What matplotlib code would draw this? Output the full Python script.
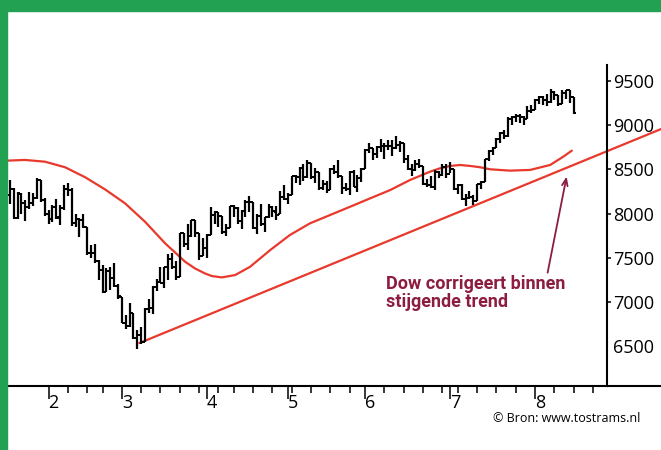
import numpy as np
import pandas as pd
import matplotlib
matplotlib.use("Agg")
import matplotlib.pyplot as plt
from matplotlib.patches import Rectangle

# kleuren
GREEN = "#22a152"
RED = "#e8392c"
WINE = "#8c1d40"

plt.rcParams['font.family'] = ['Open Sans', 'DejaVu Sans']

# handelsdagen Dow Jones 2009 (15 jan - 17 aug), plus enkele lege dagen voor de as
holidays = ["2009-01-19", "2009-02-16", "2009-04-10", "2009-05-25", "2009-07-03"]
calendar = pd.bdate_range("2009-01-15", "2009-08-28")
calendar = calendar[~calendar.isin(pd.to_datetime(holidays))]

# dagkoersen: open, hoog, laag, slot
opens = [8196, 8212, 8279, 7949, 8226, 8120, 8078, 8117, 8176, 8374, 8149,
         7995, 7936, 8076, 7954, 8063, 8281, 8269, 7888, 7937, 7931, 7845, 7553, 7555, 7465,
         7365, 7115, 7350, 7270, 7180,
         7056, 6764, 6727, 6874, 6595, 6625, 6548, 6925, 6930, 7170, 7224, 7216, 7394, 7487,
         7400, 7279, 7775, 7660, 7750, 7924, 7775, 7523,
         7608, 7762, 7978, 8016, 7973, 7790, 7838, 8083, 8057, 7920, 8029, 8125, 8128, 7840,
         7967, 7886, 7957, 8075, 8020, 7990, 8185,
         8168, 8212, 8426, 8410, 8512, 8409, 8570, 8418, 8468, 8284, 8331, 8268, 8504, 8474,
         8422, 8294, 8277, 8473, 8300, 8403,
         8501, 8721, 8740, 8675, 8750, 8763, 8764, 8763, 8739, 8770, 8799, 8612, 8504, 8497,
         8555, 8539, 8339, 8322, 8299, 8472, 8438, 8529,
         8447, 8504, 8280, 8324, 8163, 8178, 8183, 8146, 8332, 8359, 8616, 8711, 8743, 8848,
         8915, 8881, 9069, 9093, 9108, 9096, 9070, 9154,
         9172, 9286, 9320, 9280, 9256, 9370, 9337, 9241, 9362, 9398, 9320]
highs = [8300, 8380, 8290, 8240, 8230, 8150, 8240, 8230, 8400, 8375, 8180,
         8040, 8100, 8170, 8100, 8320, 8340, 8290, 7990, 7950, 7990, 7850, 7640, 7660, 7480,
         7420, 7380, 7400, 7440, 7200,
         7060, 6850, 6990, 6880, 6680, 6720, 6930, 7030, 7180, 7260, 7390, 7400, 7540, 7550,
         7460, 7780, 7780, 7880, 7930, 7925, 7776, 7720,
         7770, 8070, 8030, 8020, 7975, 7880, 8090, 8100, 8070, 8040, 8150, 8200, 8130, 7990,
         8110, 7960, 8110, 8090, 8080, 8250, 8320,
         8230, 8430, 8440, 8530, 8560, 8600, 8575, 8510, 8470, 8380, 8370, 8510, 8550, 8600,
         8425, 8350, 8480, 8490, 8440, 8510,
         8730, 8800, 8745, 8760, 8840, 8800, 8830, 8830, 8880, 8820, 8800, 8660, 8560, 8610,
         8620, 8540, 8390, 8430, 8490, 8480, 8560, 8560,
         8580, 8505, 8330, 8330, 8220, 8260, 8210, 8335, 8370, 8620, 8720, 8750, 8850, 8920,
         8940, 9090, 9100, 9130, 9120, 9100, 9220, 9230,
         9290, 9330, 9330, 9350, 9410, 9380, 9340, 9400, 9400, 9400, 9321]
lows = [8010, 8110, 7939, 7935, 7990, 7910, 8050, 8080, 8170, 8130, 7970,
        7880, 7900, 7940, 7870, 8040, 8200, 7860, 7850, 7740, 7840, 7530, 7500, 7440, 7250,
        7100, 7110, 7140, 7170, 7030,
        6760, 6700, 6720, 6580, 6470, 6520, 6545, 6870, 6860, 7120, 7210, 7160, 7250, 7370,
        7250, 7278, 7620, 7590, 7740, 7740, 7470, 7520,
        7500, 7760, 7880, 7850, 7770, 7750, 7836, 7960, 7880, 7830, 7960, 8020, 7830, 7770,
        7860, 7790, 7950, 7960, 7930, 7990, 8150,
        8110, 8210, 8340, 8320, 8370, 8400, 8390, 8350, 8270, 8270, 8230, 8265, 8450, 8400,
        8220, 8260, 8210, 8300, 8240, 8360,
        8500, 8680, 8600, 8630, 8700, 8620, 8720, 8650, 8730, 8700, 8570, 8490, 8430, 8480,
        8520, 8320, 8300, 8290, 8270, 8400, 8430, 8400,
        8460, 8270, 8220, 8150, 8090, 8160, 8100, 8140, 8280, 8358, 8590, 8660, 8740, 8800,
        8840, 8870, 9000, 9030, 9020, 9000, 9070, 9140,
        9170, 9240, 9230, 9220, 9255, 9280, 9220, 9240, 9300, 9250, 9120]
closes = [8212, 8281, 7949, 8228, 8123, 8077, 8116, 8175, 8375, 8149, 8000,
          7936, 8078, 7956, 8063, 8280, 8270, 7888, 7939, 7932, 7850, 7553, 7555, 7465, 7366,
          7114, 7351, 7270, 7182, 7063,
          6763, 6726, 6876, 6594, 6627, 6547, 6926, 6930, 7170, 7224, 7216, 7395, 7486, 7400,
          7278, 7776, 7660, 7749, 7924, 7776, 7522, 7609,
          7761, 7978, 8018, 7975, 7789, 7837, 8083, 8058, 7920, 8029, 8125, 8131, 7841, 7969,
          7886, 7957, 8076, 8025, 7989, 8185, 8168,
          8212, 8426, 8410, 8512, 8409, 8575, 8418, 8469, 8284, 8331, 8268, 8504, 8474, 8422,
          8294, 8277, 8473, 8300, 8403, 8500,
          8721, 8740, 8675, 8750, 8764, 8764, 8763, 8739, 8770, 8799, 8612, 8504, 8497, 8555,
          8539, 8339, 8322, 8299, 8472, 8438, 8529, 8447,
          8504, 8280, 8324, 8163, 8178, 8183, 8146, 8332, 8359, 8616, 8711, 8743, 8848, 8915,
          8881, 9069, 9093, 9108, 9096, 9070, 9154, 9172,
          9286, 9320, 9280, 9256, 9370, 9337, 9241, 9362, 9398, 9321, 9135]

ma_idx = [0.2, 4.9, 10.1, 15.3, 20.5, 25.6, 30.8, 36.0, 41.2, 46.4, 48.9, 51.5, 53.3,
          55.9, 59.3, 63.2, 68.4, 73.5, 78.7, 83.9, 89.1, 94.3, 99.5, 104.6, 109.8,
          112.4, 115.0, 117.6, 120.2, 122.8, 125.4, 130.5, 135.7, 140.9, 144.3, 146.5]
ma_val = [8598, 8606, 8586, 8523, 8410, 8274, 8116, 7907, 7663, 7454, 7380, 7323, 7293,
          7278, 7304, 7398, 7587, 7757, 7889, 7983, 8077, 8172, 8266, 8379, 8473,
          8512, 8538, 8549, 8538, 8523, 8500, 8485, 8493, 8549, 8643, 8711]

# trendlijn
trend_idx = [34.5, 169.6]
trend_val = [6535, 8955]

y_ticks = [6500, 7000, 7500, 8000, 8500, 9000, 9500]
month_labels = ["2", "3", "4", "5", "6", "7", "8"]

n = len(closes)
idx = np.arange(n)

# maandstart en weekstart bepalen
cal = pd.Series(calendar)
month_start = [i for i in range(1, len(cal)) if cal[i].month != cal[i - 1].month]
week_start = [i for i in range(1, len(cal))
              if cal[i].weekday() < cal[i - 1].weekday() and i >= month_start[0]]
week_start = [i for i in week_start if i not in month_start]

fig = plt.figure(figsize=(6.61, 4.5), dpi=100)
ax = fig.add_axes([0, 64 / 450, 1, 375 / 450])

# bars
ax.vlines(idx, lows, highs, color="black", lw=1.6, zorder=3)
ax.hlines(opens, idx - 0.7, idx, color="black", lw=1.4, zorder=3)
ax.hlines(closes, idx, idx + 0.7, color="black", lw=1.4, zorder=3)

ax.plot(ma_idx, ma_val, color=RED, lw=1.6, zorder=2, solid_capstyle="round",
        solid_joinstyle="round")
ax.plot(trend_idx, trend_val, color=RED, lw=1.6, zorder=2, solid_capstyle="round")

ax.set_xlim(-1.56, 169.6)
ax.set_ylim(6050, 10290)

for s in ["top", "left"]:
    ax.spines[s].set_visible(False)
ax.spines["bottom"].set_linewidth(1.5)
ax.spines["right"].set_linewidth(1.5)
ax.spines["right"].set_position(("data", 155.65))
ax.spines["right"].set_bounds(6050, 9680)

ax.yaxis.tick_right()
ax.set_yticks(y_ticks)
ax.set_yticklabels([str(v) for v in y_ticks])
ax.tick_params(axis="y", direction="out", length=3, width=1.1, pad=1, labelsize=13)
ax.yaxis.get_major_ticks()[0].tick2line.set_visible(False)

ax.set_xticks(month_start)
ax.set_xticklabels(month_labels, ha="left")
ax.set_xticks(week_start, minor=True)
ax.tick_params(axis="x", which="major", direction="out", length=9.5, width=1.1,
               pad=-3.5, labelsize=13)
ax.tick_params(axis="x", which="minor", direction="out", length=5, width=1.1)

ax.text(98.4, 7300, "Dow corrigeert binnen\nstijgende trend", color=WINE,
        family=["Roboto", "DejaVu Sans"], fontsize=13, fontweight="bold",
        ha="left", va="top", linespacing=0.95)
ax.annotate("", xy=(145.3, 8450), xytext=(140.1, 7300),
            arrowprops=dict(arrowstyle="->,head_length=0.5,head_width=0.2",
                            color=WINE, lw=1.3))

fig.text(640 / 661, 1 - 418 / 450, "\u00a9 Bron: www.tostrams.nl", ha="right",
         va="center", fontsize=9)

# groene rand
fig.add_artist(Rectangle((0, 0), 7 / 661, 1, transform=fig.transFigure,
                         color=GREEN, zorder=10))
fig.add_artist(Rectangle((0, 1 - 11 / 450), 1, 11 / 450, transform=fig.transFigure,
                         color=GREEN, zorder=10))

fig.savefig("out.png", dpi=100)
